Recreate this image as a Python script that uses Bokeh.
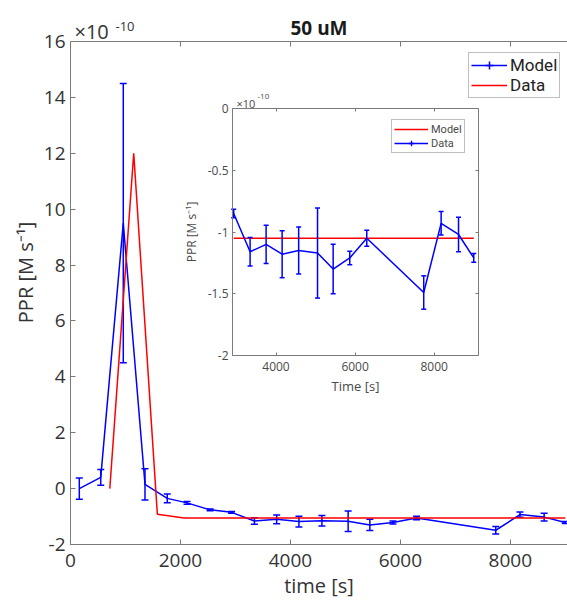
from bokeh.plotting import figure
from bokeh.models import (Range1d, LinearAxis, FixedTicker, Legend, LegendItem,
                          Label, CustomJSTickFormatter)
from bokeh.embed import file_html
from bokeh.resources import INLINE

# ---------------- data (values in units of 1e-10 M s^-1) ----------------
time_s = [160, 550, 960, 1355, 1760, 2120, 2540, 2930, 3345, 3750, 4155,
          4573, 5050, 5445, 5865, 6295, 7735, 8175, 8615, 9000]
ppr_model = [0.0, 0.4, 9.5, 0.15, -0.35, -0.51, -0.76, -0.85, -1.16, -1.10,
             -1.18, -1.15, -1.17, -1.30, -1.21, -1.05, -1.49, -0.93, -1.02, -1.21]
ppr_model_err = [0.38, 0.28, 5.0, 0.56, 0.16, 0.05, 0.03, 0.035, 0.115, 0.155,
                 0.19, 0.19, 0.365, 0.2, 0.055, 0.065, 0.135, 0.095, 0.14, 0.035]

data_time_s = [715, 1150, 1580, 2065, 9000]
ppr_data = [0.0, 12.0, -0.92, -1.05, -1.05]

inset_model_time_s = [2930, 9000]
inset_model_ppr = [-1.05, -1.05]

main_xticks = [0, 2000, 4000, 6000, 8000]
main_yticks = [-2, 0, 2, 4, 6, 8, 10, 12, 14, 16]
inset_xticks = [4000, 6000, 8000]
inset_yticks = [-2, -1.5, -1, -0.5, 0]

# ---------------- layout / style ----------------
W, H = 567, 601
FL, FR, FTOP, FB = 70, 567, 0, 544          # drawing frame edges (px)
AXT = 41                                     # px of the main axes' top edge
MAIN_X = (0, 9040)
MAIN_Y = (-2, 16)
INSET_X = (2900, 9120)
INSET_Y = (-2, 0)
IL, IR, IT, IB = 232, 478, 108, 355         # inset frame edges (px)

FONT = "Open Sans"
LFONT = "Roboto"
BLUE = "#0000ff"
RED = "#ff0000"
AXC = "#7a7a7a"
TXT = "#333333"
ITXT = "#4a4a4a"

fmt = CustomJSTickFormatter(code="return tick.toString()")

msy = (FB - AXT) / (MAIN_Y[1] - MAIN_Y[0])
p = figure(width=W, height=H, title=None,
           x_range=Range1d(*MAIN_X),
           y_range=Range1d(MAIN_Y[0], MAIN_Y[1] + (AXT - FTOP) / msy),
           output_backend="svg", toolbar_location=None,
           min_border_left=FL, min_border_right=W - FR,
           min_border_top=FTOP, min_border_bottom=H - FB,
           outline_line_color=None, background_fill_color="white",
           border_fill_color="white")

p.xgrid.visible = False
p.ygrid.visible = False


def style_axis(ax, size, color, tick_len, standoff, label_standoff, show_labels=True):
    ax.axis_line_color = AXC
    ax.axis_line_width = 1
    ax.major_tick_line_color = AXC
    ax.major_tick_in = tick_len
    ax.major_tick_out = 0
    ax.minor_tick_line_color = None
    ax.major_label_text_font = FONT
    ax.major_label_text_font_size = size
    ax.major_label_text_color = color if show_labels else None
    ax.major_label_standoff = standoff
    ax.axis_label_text_font = FONT
    ax.axis_label_text_font_style = "normal"
    ax.axis_label_text_color = color
    ax.axis_label_standoff = label_standoff


xa = p.xaxis[0]
xa.ticker = FixedTicker(ticks=main_xticks)
xa.formatter = fmt
xa.axis_label = "time [s]"
style_axis(xa, "19px", TXT, 5, 9, 2)
xa.axis_label_text_font_size = "20px"

ya = p.yaxis[0]
ya.ticker = FixedTicker(ticks=main_yticks)
ya.formatter = fmt
ya.bounds = MAIN_Y
ya.axis_label = "PPR [M s\u207b\u00b9]"
style_axis(ya, "19px", TXT, 5, 5, 2)
ya.axis_label_text_font_size = "20px"

top_ax = LinearAxis(fixed_location=MAIN_Y[1], ticker=FixedTicker(ticks=main_xticks),
                    formatter=fmt)
style_axis(top_ax, "10px", TXT, 5, 2, 2, show_labels=False)
p.add_layout(top_ax, "above")

# ---------------- main series ----------------
lower = [v - e for v, e in zip(ppr_model, ppr_model_err)]
upper = [v + e for v, e in zip(ppr_model, ppr_model_err)]
p.segment(x0=time_s, y0=lower, x1=time_s, y1=upper, line_color=BLUE, line_width=1.5)
p.scatter(x=time_s + time_s, y=lower + upper, marker="dash", size=7,
          line_color=BLUE, line_width=1.5)
blue_line = p.line(time_s, ppr_model, line_color=BLUE, line_width=1.5)
red_line = p.line(data_time_s, ppr_data, line_color=RED, line_width=1.5)
# legend-only errorbar key (hidden in the plot)
blue_key = p.scatter(x=time_s, y=ppr_model, marker="cross", line_color=BLUE,
                     line_width=1.5, visible=False)

# ---------------- title and exponent ----------------
p.add_layout(Label(x=(MAIN_X[0] + MAIN_X[1]) / 2, y=MAIN_Y[1], y_offset=14,
                   text="50 uM", text_font=FONT, text_font_size="19px",
                   text_font_style="bold", text_color="#1a1a1a",
                   text_align="center", text_baseline="alphabetic"))
p.add_layout(Label(x=MAIN_X[0], y=MAIN_Y[1], x_offset=4, y_offset=10, text="\u00d710",
                   text_font=FONT, text_font_size="20px", text_color=TXT,
                   text_baseline="alphabetic"))
p.add_layout(Label(x=MAIN_X[0], y=MAIN_Y[1], x_offset=45, y_offset=15, text="-10",
                   text_font=FONT, text_font_size="13px", text_color=TXT,
                   text_baseline="alphabetic"))

# ---------------- inset (own ranges) ----------------
sx = (IR - IL) / (INSET_X[1] - INSET_X[0])
sy = (IB - IT) / (INSET_Y[1] - INSET_Y[0])
p.extra_x_ranges = {"ix": Range1d(INSET_X[0] - (IL - FL) / sx,
                                  INSET_X[1] + (FR - IR) / sx)}
p.extra_y_ranges = {"iy": Range1d(INSET_Y[0] - (FB - IB) / sy,
                                  INSET_Y[1] + (IT - FTOP) / sy)}
R = dict(x_range_name="ix", y_range_name="iy")

p.quad(left=[INSET_X[0]], right=[INSET_X[1]], bottom=[INSET_Y[0]], top=[INSET_Y[1]],
       fill_color="white", line_color=None, **R)

ins_idx = [i for i, t in enumerate(time_s) if t >= INSET_X[0]]
it_ = [time_s[i] for i in ins_idx]
iv = [ppr_model[i] for i in ins_idx]
ilo = [lower[i] for i in ins_idx]
ihi = [upper[i] for i in ins_idx]

ired = p.line(inset_model_time_s, inset_model_ppr, line_color=RED, line_width=1.5, **R)
p.segment(x0=it_, y0=ilo, x1=it_, y1=ihi, line_color=BLUE, line_width=1.5, **R)
p.scatter(x=it_ + it_, y=ilo + ihi, marker="dash", size=5, line_color=BLUE,
          line_width=1.5, **R)
iblue = p.line(it_, iv, line_color=BLUE, line_width=1.5, **R)
iblue_key = p.scatter(x=it_, y=iv, marker="cross", line_color=BLUE, line_width=1.3,
                      visible=False, **R)

ib = LinearAxis(fixed_location=INSET_Y[0], bounds=INSET_X,
                ticker=FixedTicker(ticks=inset_xticks), formatter=fmt,
                axis_label="Time [s]", **R)
style_axis(ib, "12px", ITXT, 3, 6, 3)
ib.axis_label_text_font_size = "13px"
p.add_layout(ib, "below")

il = LinearAxis(fixed_location=INSET_X[0], bounds=INSET_Y,
                ticker=FixedTicker(ticks=inset_yticks), formatter=fmt,
                axis_label="PPR [M s\u207b\u00b9]", **R)
style_axis(il, "12px", ITXT, 3, 4, 5)
il.axis_label_text_font_size = "12px"
p.add_layout(il, "left")

itop = LinearAxis(fixed_location=INSET_Y[1], bounds=INSET_X,
                  ticker=FixedTicker(ticks=inset_xticks), formatter=fmt, **R)
style_axis(itop, "8px", ITXT, 3, 2, 2, show_labels=False)
p.add_layout(itop, "above")

iright = LinearAxis(fixed_location=INSET_X[1], bounds=INSET_Y,
                    ticker=FixedTicker(ticks=inset_yticks), formatter=fmt, **R)
style_axis(iright, "8px", ITXT, 3, 2, 2, show_labels=False)
p.add_layout(iright, "right")

p.add_layout(Label(x=INSET_X[0], y=INSET_Y[1], x_offset=4, y_offset=5, text="\u00d710",
                   text_font=FONT, text_font_size="11px", text_color=ITXT,
                   text_baseline="alphabetic", **R))
p.add_layout(Label(x=INSET_X[0], y=INSET_Y[1], x_offset=25, y_offset=12, text="-10",
                   text_font=FONT, text_font_size="8px", text_color=ITXT,
                   text_baseline="alphabetic", **R))

# ---------------- legends ----------------
main_leg = Legend(items=[LegendItem(label="Model", renderers=[blue_line, blue_key]),
                         LegendItem(label="Data", renderers=[red_line])],
                  location=(398, 446))
main_leg.border_line_color = "#808080"
main_leg.background_fill_color = "white"
main_leg.inactive_fill_alpha = 0
main_leg.label_text_font = LFONT
main_leg.label_text_font_size = "17px"
main_leg.label_text_color = "#222222"
main_leg.glyph_width = 36
main_leg.glyph_height = 20
main_leg.label_height = 20
main_leg.label_standoff = 3
main_leg.spacing = 0
main_leg.padding = 2
main_leg.margin = 0
p.add_layout(main_leg)

ins_leg = Legend(items=[LegendItem(label="Model", renderers=[ired]),
                        LegendItem(label="Data", renderers=[iblue, iblue_key])],
                 location=(321, 391))
ins_leg.border_line_color = "#808080"
ins_leg.background_fill_color = "white"
ins_leg.inactive_fill_alpha = 0
ins_leg.label_text_font = LFONT
ins_leg.label_text_font_size = "11px"
ins_leg.label_text_color = ITXT
ins_leg.glyph_width = 34
ins_leg.glyph_height = 14
ins_leg.label_height = 14
ins_leg.label_standoff = 3
ins_leg.spacing = 0
ins_leg.padding = 2
ins_leg.margin = 0
p.add_layout(ins_leg)

open("out.html", "w").write(file_html(p, INLINE))
